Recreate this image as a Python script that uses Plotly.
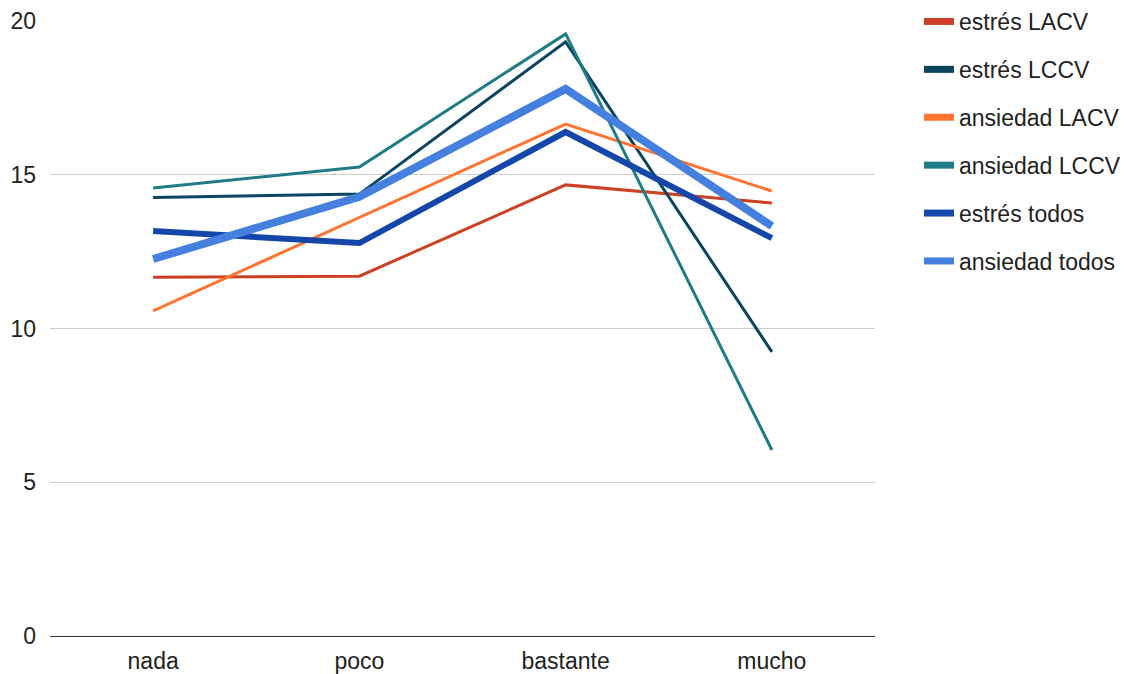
import plotly.graph_objects as go

categories = ["nada", "poco", "bastante", "mucho"]
estres_lacv = [11.67, 11.70, 14.67, 14.08]
estres_lccv = [14.26, 14.37, 19.32, 9.24]
ansiedad_lacv = [10.57, 13.60, 16.65, 14.47]
ansiedad_lccv = [14.57, 15.25, 19.58, 6.05]
estres_todos = [13.17, 12.78, 16.39, 12.94]
ansiedad_todos = [12.26, 14.28, 17.79, 13.33]

series = [
    ("estrés LACV", estres_lacv, "#CC4125", 3),
    ("estrés LCCV", estres_lccv, "#0B4460", 3),
    ("ansiedad LACV", ansiedad_lacv, "#FF7433", 3),
    ("ansiedad LCCV", ansiedad_lccv, "#1F7C86", 3),
    ("estrés todos", estres_todos, "#1546A9", 6),
    ("ansiedad todos", ansiedad_todos, "#4680DF", 8),
]

fig = go.Figure()
for name, vals, color, w in series:
    fig.add_trace(go.Scatter(x=categories, y=vals, mode="lines", name=name,
                             line=dict(color=color, width=w), showlegend=False,
                             legendgroup=name))
for name, vals, color, w in series:
    fig.add_trace(go.Scatter(x=[None], y=[None], mode="lines", name=name,
                             line=dict(color=color, width=7), showlegend=True,
                             legendgroup=name))

fig.update_layout(
    width=1134, height=674,
    margin=dict(l=50, r=259, t=21, b=38, autoexpand=False),
    plot_bgcolor="white", paper_bgcolor="white",
    font=dict(family="Liberation Sans, Arial", size=22, color="#222222"),
    legend=dict(xref="container", yref="container", x=919 / 1134, y=1.0,
                xanchor="left", yanchor="top",
                font=dict(size=23, color="#222222"),
                tracegroupgap=15, itemwidth=30),
    xaxis=dict(range=[-0.5, 3.5], showgrid=False, showline=True, automargin=False,
               linecolor="#333333", linewidth=1, ticks="",
               ticklabelstandoff=4, tickfont=dict(size=23)),
    yaxis=dict(range=[0, 20], tickvals=[0, 5, 10, 15, 20], showgrid=True,
               automargin=False,
               gridcolor="#CCCCCC", gridwidth=1, zeroline=False, ticks="",
               ticklabelstandoff=13, tickfont=dict(size=23)),
)

fig.write_html("out.html", config={"displayModeBar": False},
               post_script="document.body.style.margin='0';")
